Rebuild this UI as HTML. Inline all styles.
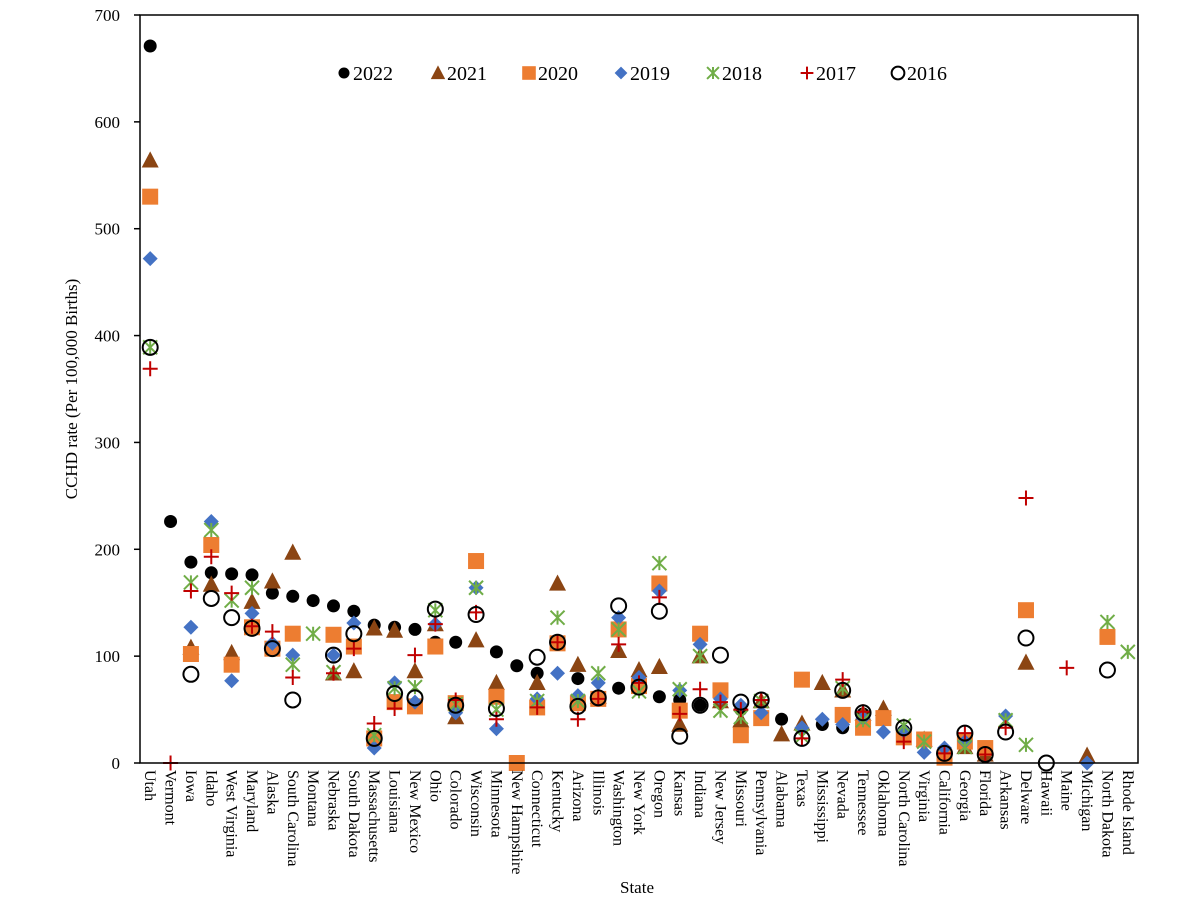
<!DOCTYPE html>
<html><head><meta charset="utf-8"><style>
body{margin:0;background:#fff}
svg{display:block;font-family:"Liberation Serif",serif}
</style></head><body>
<svg id="chart" width="1200" height="900" viewBox="0 0 1200 900">
<rect width="1200" height="900" fill="#fff"/>
<g id="marks"></g>
</svg>
<script>
const states=["Utah","Vermont","Iowa","Idaho","West Virginia","Maryland","Alaska","South Carolina","Montana","Nebraska","South Dakota","Massachusetts","Louisiana","New Mexico","Ohio","Colorado","Wisconsin","Minnesota","New Hampshire","Connecticut","Kentucky","Arizona","Illinois","Washington","New York","Oregon","Kansas","Indiana","New Jersey","Missouri","Pennsylvania","Alabama","Texas","Mississippi","Nevada","Tennessee","Oklahoma","North Carolina","Virginia","California","Georgia","Florida","Arkansas","Delware","Hawaii","Maine","Michigan","North Dakota","Rhode Island"];
const yTicks=[0,100,200,300,400,500,600,700];
const years=["2022","2021","2020","2019","2018","2017","2016"];
const N=null;
const v2022=[671,226,188,178,177,176,159,156,152,147,142,129,127,125,113,113,N,104,91,84,113,79,N,70,72,62,59,54,N,50,N,41,N,36,33,46,N,30,N,9,N,N,N,N,N,N,N,N,N];
const v2021=[564,N,108,167,103,151,170,197,N,84,86,126,124,86,130,43,115,75,N,75,168,92,62,105,87,90,36,100,58,40,58,27,37,75,68,46,51,N,22,N,15,8,N,94,N,N,7,N,N];
const v2020=[530,N,102,204,92,127,107,121,N,120,109,23,57,53,109,56,189,62,0,52,112,56,60,125,72,168,49,121,68,26,42,N,78,N,45,33,42,24,22,5,20,14,N,143,N,N,N,118,N];
const v2019=[472,N,127,226,77,140,112,101,N,101,131,14,75,57,130,47,164,32,N,60,84,63,75,136,80,161,68,111,60,54,47,N,33,41,36,42,29,30,10,14,20,N,44,N,N,N,0,N,N];
const v2018=[389,N,169,218,152,164,N,92,121,85,N,26,70,71,143,55,164,50,N,58,136,58,84,125,67,187,69,100,49,43,58,N,25,N,70,40,N,35,20,N,15,N,40,17,N,N,N,132,104];
const v2017=[369,0,161,193,159,128,123,80,N,84,107,37,51,101,130,59,141,41,N,52,113,41,60,111,75,155,46,69,57,50,59,N,23,N,78,48,N,20,N,9,28,8,33,248,N,89,N,N,N];
const v2016=[389,N,83,154,136,126,107,59,N,101,121,23,65,61,144,54,139,51,N,99,113,53,61,147,71,142,25,54,101,57,59,N,23,N,68,47,N,33,N,9,28,8,29,117,0,N,N,87,N];
const series=[v2022,v2021,v2020,v2019,v2018,v2017,v2016];
const L=140,R=1138,T=15,B=763,YMAX=700;
const NS="http://www.w3.org/2000/svg";
const svg=document.getElementById('chart');
const g=document.getElementById('marks');
function xS(i){return L+(i+0.5)*(R-L)/states.length;}
function yS(v){return B-v/YMAX*(B-T);}
function mk(tag,attrs,parent){const e=document.createElementNS(NS,tag);for(const k in attrs)e.setAttribute(k,attrs[k]);(parent||svg).appendChild(e);return e;}
function marker(k,x,y,parent,s){
  s=s||1;let e;
  if(k===0){e=mk('circle',{cx:x,cy:y,r:6.5*s,fill:'#000'},parent);}
  else if(k===1){const h=9*s;e=mk('polygon',{points:`${x},${y-h} ${x+8.5*s},${y+h*0.8} ${x-8.5*s},${y+h*0.8}`,fill:'#8B4513'},parent);}
  else if(k===2){const h=8*s;e=mk('rect',{x:x-h,y:y-h,width:2*h,height:2*h,fill:'#ED7D31'},parent);}
  else if(k===3){const h=7.5*s;e=mk('polygon',{points:`${x},${y-h} ${x+h},${y} ${x},${y+h} ${x-h},${y}`,fill:'#4472C4'},parent);}
  else if(k===4){const h=7*s;e=mk('path',{d:`M${x-h},${y-h}L${x+h},${y+h}M${x-h},${y+h}L${x+h},${y-h}M${x},${y-h}V${y+h}`,stroke:'#70AD47','stroke-width':2,fill:'none'},parent);}
  else if(k===5){const h=7.5*s;e=mk('path',{d:`M${x-h},${y}H${x+h}M${x},${y-h}V${y+h}`,stroke:'#C00000','stroke-width':2,fill:'none'},parent);}
  else {e=mk('circle',{cx:x,cy:y,r:7.5*s,fill:'none',stroke:'#000','stroke-width':2},parent);}
  return e;
}
const frame=mk('rect',{x:L,y:T,width:R-L,height:B-T,fill:'none',stroke:'#000','stroke-width':1.5});


yTicks.forEach(t=>{
  const tk=mk('line',{x1:L-6,x2:L,y1:yS(t),y2:yS(t),stroke:'#000','stroke-width':1.5});
  
  
  const tx=mk('text',{x:L-20,y:yS(t)+6,'text-anchor':'end','font-size':17,fill:'#000'});
  tx.textContent=t;
  
  
});
const yt=mk('text',{x:0,y:0,transform:'translate(77,389) rotate(-90)','text-anchor':'middle','font-size':17});
yt.textContent='CCHD rate (Per 100,000 Births)';


const xt=mk('text',{x:637,y:893,'text-anchor':'middle','font-size':17});
xt.textContent='State';


states.forEach((s,i)=>{
  const t=mk('text',{x:0,y:0,transform:`translate(${xS(i)-5},770) rotate(90)`,'font-size':16});
  t.textContent=s;
  
  
});
series.forEach((arr,k)=>{
  const sg=mk('g',{},g);
  
  
  arr.forEach((v,i)=>{
    if(v===null)return;
    const m=marker(k,xS(i),yS(v),sg);
    
    
  });
});
const lx=[344,438,529,621,713,807,898];
const lg=mk('g',{});


years.forEach((yr,k)=>{
  const m=marker(k,lx[k],73,lg,0.85);
  
  
  const t=mk('text',{x:lx[k]+9,y:80,'font-size':20},lg);
  t.textContent=yr;
  
  
});
</script>
</body></html>
